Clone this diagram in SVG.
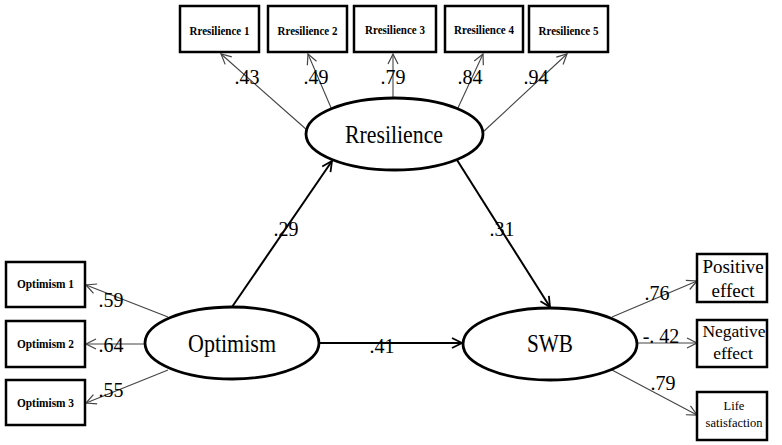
<svg xmlns="http://www.w3.org/2000/svg" width="782" height="445" viewBox="0 0 782 445" font-family="'Liberation Serif', 'DejaVu Serif', serif">
<style>
.box{fill:#fff;stroke:#000;stroke-width:2.5}
.ell{fill:#fff;stroke:#000;stroke-width:2.8}
.thin{stroke:#444;stroke-width:1.1;fill:none;marker-end:url(#a1)}
.thick{stroke:#000;stroke-width:2;fill:none;marker-end:url(#a2)}
text{font-family:'Liberation Serif','DejaVu Serif',serif;fill:#000;text-anchor:middle}
.sm{font-size:12.5px;font-weight:bold}
.lab{font-size:20px}
.big{font-size:25px}
.mid{font-size:19px}
.ls{font-size:12.5px}
</style>
<defs>
<marker id="a1" markerUnits="userSpaceOnUse" markerWidth="14" markerHeight="14" refX="11" refY="6" orient="auto">
<path d="M1,1 L11,6 L1,11" fill="none" stroke="#444" stroke-width="1.2"/>
</marker>
<marker id="a2" markerUnits="userSpaceOnUse" markerWidth="14" markerHeight="14" refX="11" refY="6" orient="auto">
<path d="M1,1 L11,6 L1,11" fill="none" stroke="#000" stroke-width="1.8"/>
</marker>
</defs>
<rect width="782" height="445" fill="#fff"/>
<g id="connectors">
<line class="thin" x1="307" y1="130" x2="221" y2="54"/>
<line class="thin" x1="332" y1="110" x2="308" y2="54"/>
<line class="thin" x1="393" y1="98" x2="393" y2="54"/>
<line class="thin" x1="457" y1="110" x2="483" y2="54"/>
<line class="thin" x1="483" y1="132" x2="567" y2="54"/>
<line class="thin" x1="168" y1="317" x2="86" y2="285"/>
<line class="thin" x1="145" y1="344" x2="86" y2="344"/>
<line class="thin" x1="168" y1="370" x2="86" y2="403"/>
<line class="thin" x1="612" y1="317" x2="697" y2="281"/>
<line class="thin" x1="637" y1="343" x2="697" y2="343"/>
<line class="thin" x1="612" y1="370" x2="697" y2="415"/>
<line class="thick" x1="232" y1="307" x2="332" y2="161"/>
<line class="thick" x1="457" y1="160" x2="550" y2="307"/>
<line class="thick" x1="319" y1="343" x2="462" y2="343"/>
<text class="lab" x="247" y="84">.43</text>
<text class="lab" x="316" y="84">.49</text>
<text class="lab" x="393" y="84">.79</text>
<text class="lab" x="470" y="84">.84</text>
<text class="lab" x="536" y="84">.94</text>
<text class="lab" x="286" y="236">.29</text>
<text class="lab" x="502" y="236">.31</text>
<text class="lab" x="382" y="353">.41</text>
<text class="lab" x="111" y="307">.59</text>
<text class="lab" x="111" y="352">.64</text>
<text class="lab" x="111" y="397">.55</text>
<text class="lab" x="657" y="300">.76</text>
<text class="lab" x="661" y="343">-. 42</text>
<text class="lab" x="663" y="390">.79</text>
</g>
<g id="r1"><rect class="box" x="180" y="6" width="79" height="46"/><text class="sm" x="219.5" y="34.5" textLength="60" lengthAdjust="spacingAndGlyphs">Rresilience 1</text></g>
<g id="r2"><rect class="box" x="268" y="6" width="79" height="46"/><text class="sm" x="307.5" y="34.5" textLength="60" lengthAdjust="spacingAndGlyphs">Rresilience 2</text></g>
<g id="r3"><rect class="box" x="354" y="6" width="82" height="46"/><text class="sm" x="395" y="34" textLength="60" lengthAdjust="spacingAndGlyphs">Rresilience 3</text></g>
<g id="r4"><rect class="box" x="445" y="6" width="78" height="46"/><text class="sm" x="484" y="34" textLength="60" lengthAdjust="spacingAndGlyphs">Rresilience 4</text></g>
<g id="r5"><rect class="box" x="529" y="6" width="79" height="46"/><text class="sm" x="568.5" y="34.5" textLength="60" lengthAdjust="spacingAndGlyphs">Rresilience 5</text></g>
<g id="resilience"><ellipse class="ell" cx="394.5" cy="134" rx="88.5" ry="36"/><text class="big" x="394" y="143" textLength="98" lengthAdjust="spacingAndGlyphs">Rresilience</text></g>
<g id="optimism"><ellipse class="ell" cx="232" cy="343" rx="87" ry="36"/><text class="big" x="232" y="352" textLength="88" lengthAdjust="spacingAndGlyphs">Optimism</text></g>
<g id="swb"><ellipse class="ell" cx="550" cy="344" rx="87" ry="36"/><text class="big" x="550" y="352" textLength="46" lengthAdjust="spacingAndGlyphs">SWB</text></g>
<g id="o1"><rect class="box" x="6" y="262" width="79" height="45"/><text class="sm" x="45.5" y="288" textLength="57" lengthAdjust="spacingAndGlyphs">Optimism 1</text></g>
<g id="o2"><rect class="box" x="6" y="321" width="79" height="46"/><text class="sm" x="45.5" y="348" textLength="57" lengthAdjust="spacingAndGlyphs">Optimism 2</text></g>
<g id="o3"><rect class="box" x="6" y="380" width="79" height="45"/><text class="sm" x="45.5" y="407" textLength="57" lengthAdjust="spacingAndGlyphs">Optimism 3</text></g>
<g id="pos"><rect class="box" x="697" y="254" width="70" height="48"/><text class="mid" x="733" y="273">Positive</text><text class="mid" x="733" y="297">effect</text></g>
<g id="neg"><rect class="box" x="697" y="320" width="70" height="47"/><text class="mid" x="734" y="337" style="font-size:17.5px">Negative</text><text class="mid" x="733" y="359" style="font-size:17.5px">effect</text></g>
<g id="life"><rect class="box" x="697" y="392" width="70" height="48"/><text class="ls" x="734" y="410">Life</text><text class="ls" x="734" y="427">satisfaction</text></g>
</svg>
